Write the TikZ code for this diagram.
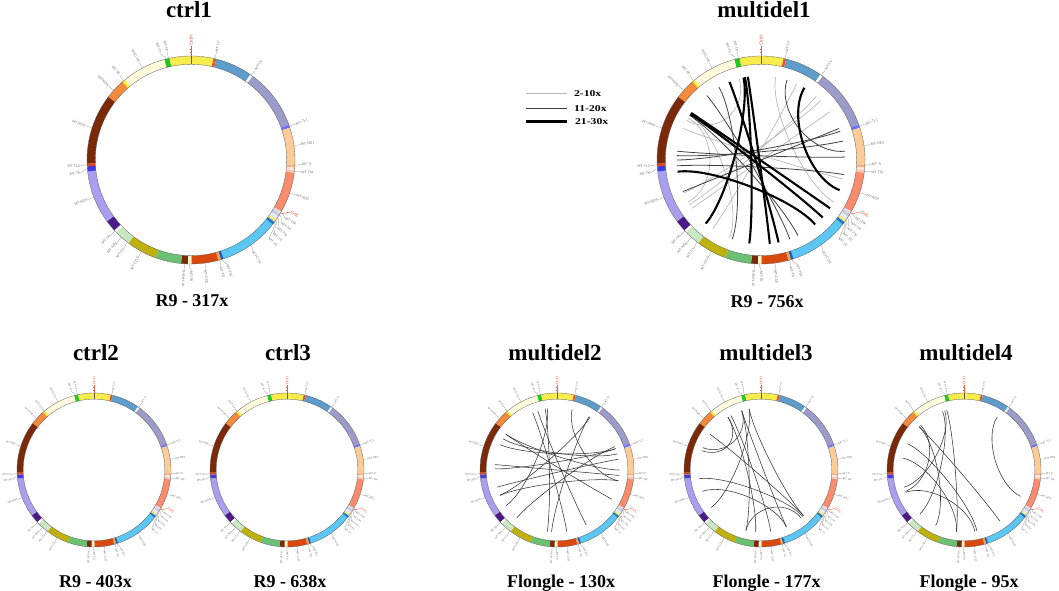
\documentclass[tikz,border=0pt]{standalone}
\usepackage{fontspec}
\setmainfont{Liberation Serif}
\setsansfont{Liberation Sans}

% gene colours
\definecolor{dloop}{HTML}{F8EB4C}
\definecolor{trnaF}{HTML}{E8542C}
\definecolor{rnrA}{HTML}{5E9CCB}
\definecolor{rnrB}{HTML}{9C9CCA}
\definecolor{trnaL}{HTML}{6F6FF2}
\definecolor{ndA}{HTML}{FBCB98}
\definecolor{trnaI}{HTML}{F6B07A}
\definecolor{trnaQ}{HTML}{FDE3DA}
\definecolor{trnaM}{HTML}{F6C9B5}
\definecolor{ndB}{HTML}{FA8B6C}
\definecolor{trnaW}{HTML}{DCDCEA}
\definecolor{trnaA}{HTML}{C9C9DD}
\definecolor{trnaN}{HTML}{E8E8F0}
\definecolor{trnaC}{HTML}{F2EE6A}
\definecolor{trnaY}{HTML}{1F78C8}
\definecolor{coA}{HTML}{5CC7F4}
\definecolor{trnaS}{HTML}{1560C0}
\definecolor{trnaD}{HTML}{F0A24E}
\definecolor{coB}{HTML}{D9490E}
\definecolor{trnaK}{HTML}{FFF5C8}
\definecolor{atpA}{HTML}{7A2A0C}
\definecolor{atpB}{HTML}{6CC072}
\definecolor{coC}{HTML}{BEB10E}
\definecolor{ndC}{HTML}{C9E8C2}
\definecolor{ndD}{HTML}{4A1A86}
\definecolor{ndE}{HTML}{A99FF0}
\definecolor{trnaH}{HTML}{3B3BE2}
\definecolor{trnaLb}{HTML}{E2431E}
\definecolor{ndF}{HTML}{7B2908}
\definecolor{ndG}{HTML}{F5893C}
\definecolor{trnaE}{HTML}{F7EE3A}
\definecolor{cyb}{HTML}{FFFADB}
\definecolor{trnaT}{HTML}{22C722}
\definecolor{oricol}{HTML}{E8603C}

\tikzset{
  ringline/.style={draw=black!65, line width=0.3pt},
  labline/.style={draw=black!45, line width=0.25pt},
  lab/.style={text=black!55, inner sep=0.2pt, font=\sffamily\fontsize{\lfs}{\lfs}\selectfont},
  orilab/.style={text=oricol, inner sep=0.2pt, font=\sffamily\fontsize{\ofs}{\ofs}\selectfont},
  ltl/.style={draw=black!28, line width=0.7pt},
  dkl/.style={draw=black!75, line width=0.8pt},
  dkb/.style={draw=black!80, line width=0.55pt},
  thk/.style={draw=black, line width=2.1pt},
  ttl/.style={font=\bfseries\fontsize{23}{25}\selectfont, anchor=base, inner sep=0pt},
  sub/.style={font=\bfseries\fontsize{18}{20}\selectfont, anchor=base, inner sep=0pt},
  leg/.style={font=\bfseries\fontsize{9}{10}\selectfont, anchor=west, xscale=1.3, inner sep=0pt, right=5pt}
}

% ring of the mt genome, #1 = outer radius
\newcommand{\mtring}[1]{%
  \pgfmathsetmacro{\ro}{#1}%
  \pgfmathsetmacro{\ri}{0.92*#1}%
  \pgfmathsetmacro{\rk}{1.02*#1}%
  \pgfmathsetmacro{\rl}{1.065*#1}%
  \pgfmathsetmacro{\rc}{0.81*#1}%
  \pgfmathsetmacro{\cd}{0.4*0.81*#1}%
  \pgfmathsetmacro{\lfs}{0.035*#1}%
  \pgfmathsetmacro{\ofs}{0.048*#1}%
  \foreach \a/\b/\c in {0/12.54/dloop, 12.54/14.08/trnaF, 14.08/34.8/rnrA, 34.8/36.3/white,
      36.3/70.2/rnrB, 70.2/71.9/trnaL, 71.9/92.6/ndA, 92.6/94.1/trnaI, 94.1/95.6/trnaQ,
      95.6/97.1/trnaM, 97.1/119.7/ndB, 119.7/121.3/trnaW, 121.3/122.9/trnaA, 122.9/125.2/trnaN,
      125.2/126.6/trnaC, 126.6/128.3/trnaY, 128.3/161.8/coA, 161.8/163.3/trnaS, 163.3/164.8/trnaD,
      164.8/179.8/coB, 179.8/181.8/trnaK, 181.8/185.5/atpA, 185.5/200/atpB, 200/217/coC,
      217/226/ndC, 226/227.5/white, 227.5/233.9/ndD, 233.9/263.7/ndE, 263.7/266.5/trnaH,
      266.5/268/trnaLb, 268/307.4/ndF, 307.4/318.8/ndG, 318.8/320.4/trnaE, 320.4/345.2/cyb,
      345.2/348.1/trnaT, 348.1/360/dloop}
    \fill[\c] ({90-\a}:\ro) arc[start angle={90-\a}, end angle={90-\b}, radius=\ro]
      -- ({90-\b}:\ri) arc[start angle={90-\b}, end angle={90-\a}, radius=\ri] -- cycle;
  \draw[ringline] (0,0) circle[radius=\ro] (0,0) circle[radius=\ri];
  \draw[ringline] (90:\ri) -- (90:\ro);
  % gene labels: gene angle / label angle / text
  \foreach \a/\g/\lbl in {13.3/13.3/MT-TF, 35.5/35.5/MT-TV, 71/71/MT-TL1, 82/82/MT-ND1,
      92.8/92.2/MT-TI, 96.3/96.1/MT-TM, 108.4/108.4/MT-ND2, 120.5/121.6/MT-TW,
      122.1/125/MT-TA, 124/128.4/MT-TN, 125.9/131.8/MT-TC, 127.4/135.2/MT-TY,
      145/146/MT-CO1, 162.5/160.8/MT-TS1, 164/164.4/MT-TD, 172.3/172.6/MT-CO2,
      180.8/179.8/MT-TK, 183.6/183.6/MT-ATP8, 208.5/208.5/MT-CO3, 217.8/217.2/MT-TG,
      221.9/221.9/MT-ND3, 227/226.8/MT-TR, 249/249/MT-ND4, 265/263.2/MT-TH,
      267.3/267/MT-TL2, 288/288/MT-ND5, 312/312/MT-ND6, 319.6/320/MT-TE, 332/332/MT-CYB,
      345.8/343.8/MT-TT, 347.5/347.6/MT-TP}{
    \ifdim\g pt<180pt \def\anc{west}\pgfmathsetmacro\rot{90-\g}%
    \else \def\anc{east}\pgfmathsetmacro\rot{270-\g}\fi
    \draw[labline] ({90-\a}:\ro) -- ({90-\a}:\rk) -- ({90-\g}:\rl)
      node[lab, anchor=\anc, rotate=\rot] {\lbl};
  }
  % replication origins
  \draw[oricol, line width=0.4pt] (90:\ro) -- (90:{1.1*\ro}) node[orilab, anchor=west, rotate=90] {OriH};
  \foreach \f in {1.035,1.07}
    \draw[oricol, line width=0.4pt] ({-0.012*\ro},{\f*\ro}) -- ({0.012*\ro},{\f*\ro});
  \draw[oricol, line width=0.4pt] (-30.4:\ro) -- (-30.4:\rk) -- (-27.6:{1.08*\ro})
    node[orilab, anchor=west, rotate=-27.6] {OriL};
}

% deletion link between two angles (clockwise from the top)
\newcommand{\link}[3][dkl]{\draw[#1] ({90-#2}:\rc) .. controls ({90-#2}:{\rc-\cd}) and ({90-#3}:{\rc-\cd}) .. ({90-#3}:\rc);}

\begin{document}
\begin{tikzpicture}[x=1pt,y=1pt]
\useasboundingbox (0,0) rectangle (1059,591);

% ---- top row
\begin{scope}[shift={(191,431)}]
  \mtring{104}
\end{scope}
\node[ttl] (t1) at (189,573) {ctrl1};
\node[sub] (s1) at (192,284) {R9 - 317x};

\begin{scope}[shift={(761,431)}]
  \mtring{104}
  \link[ltl]{10}{120}
  \link[ltl]{41}{238}
  \link[ltl]{45}{247}
  \link[ltl]{292}{103}
  \link[ltl]{302}{202}
  \link[ltl]{300}{240}
  \link[ltl]{298}{345}
  \link[ltl]{235}{55}
  \link[ltl]{215}{25}
  \link{302}{154}
  \link{18}{84}
  \link{320}{160}
  \link{270}{70}
  \link{276}{88}
  \link{273}{77}
  \link{266}{100}
  \link{248}{68}
  \link{330}{200}
  \link[thk]{304}{125}
  \link[thk]{303}{133}
  \link[thk]{349}{188}
  \link[thk]{351}{174}
  \link[thk]{348}{221}
  \link[thk]{338}{168}
  \link[thk]{31}{111}
  \link[thk]{262}{140}
\end{scope}
\node[ttl] (t2) at (764,573) {multidel1};
\node[sub] (s2) at (767,283) {R9 - 756x};

% legend
\draw[ltl, line width=0.8pt] (526,497.7) -- (567,497.7) node[leg] (l1) {2-10x};
\draw[dkl, line width=1pt] (526,482.7) -- (567,482.7) node[leg] (l2) {11-20x};
\draw[thk, line width=2.4pt] (526,469.3) -- (567,469.3) node[leg] (l3) {21-30x};

% ---- bottom row
\begin{scope}[shift={(94,121)}]
  \mtring{77}
\end{scope}
\node[ttl] (t3) at (96,230) {ctrl2};
\node[sub] (s3) at (95.5,4) {R9 - 403x};

\begin{scope}[shift={(287,121)}]
  \mtring{77}
\end{scope}
\node[ttl] (t4) at (288,230) {ctrl3};
\node[sub] (s4) at (290,4) {R9 - 638x};

\begin{scope}[shift={(557,121)}]
  \mtring{77}
  \foreach \p/\q in {305/90, 300/75, 294/70, 275/95, 271/70, 254/80, 246/100, 337/171,
      349/189, 342/152, 351/235, 14/100, 31/185, 305/118, 220/68, 246/32}
    \link[dkb]{\p}{\q};
\end{scope}
\node[ttl] (t5) at (555,230) {multidel2};
\node[sub] (s5) at (561,4) {Flongle - 130x};

\begin{scope}[shift={(761,121)}]
  \mtring{77}
  \foreach \p/\q in {305/137, 291/342, 288/328, 328/185, 331/171, 342/156, 349/137,
      349/233, 262/138, 250/156, 194/140, 342/194}
    \link[dkb]{\p}{\q};
\end{scope}
\node[ttl] (t6) at (766,230) {multidel3};
\node[sub] (s6) at (766.5,4) {Flongle - 177x};

\begin{scope}[shift={(964,121)}]
  \mtring{77}
  \foreach \p/\q in {32/115, 314/145, 295/168, 281/187, 340/225, 342/254, 344/187,
      314/207, 316/250, 249/170}
    \link[dkb]{\p}{\q};
\end{scope}
\node[ttl] (t7) at (966,230) {multidel4};
\node[sub] (s7) at (969,4) {Flongle - 95x};

\end{tikzpicture}
\end{document}
